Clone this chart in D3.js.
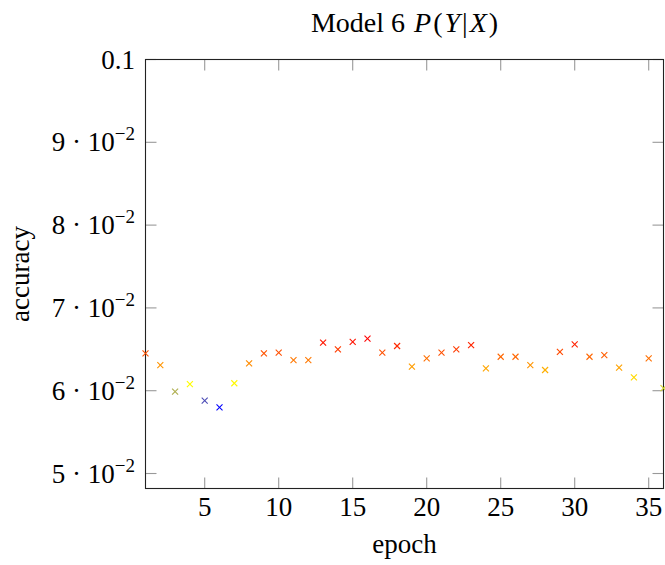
<!DOCTYPE html>
<html><head><meta charset="utf-8">
<script src="https://cdn.jsdelivr.net/npm/d3@7"></script>
<style>body{margin:0;background:#fff}</style>
</head><body>
<script>
const epochs = [1,2,3,4,5,6,7,8,9,10,11,12,13,14,15,16,17,18,19,20,21,22,23,24,25,26,27,28,29,30,31,32,33,34,35,36];
const accuracy = [0.0645,0.0631,0.0599,0.0608,0.0588,0.0580,0.0609,0.0633,0.0645,0.0646,0.0637,0.0637,
  0.0658,0.0650,0.0659,0.0663,0.0646,0.0654,0.0629,0.0639,0.0646,0.0650,0.0655,0.0627,
  0.0641,0.0641,0.0631,0.0625,0.0647,0.0656,0.0641,0.0643,0.0628,0.0616,0.0639,0.0603];
const xTicks = [5,10,15,20,25,30,35];
const yTicks = [0.05,0.06,0.07,0.08,0.09,0.1];
const yTickMantissa = ["5","6","7","8","9",null];
const hotColors = ["rgb(0,0,255)","rgb(255,255,0)","rgb(255,128,0)","rgb(255,0,0)"];

const W = 665, H = 565;
const L = 145.5, R = 663.5, T = 59.5, B = 488.5;
const font = "'Liberation Serif', 'Times New Roman', serif";
const fs = 27;

const svg = d3.select("body").append("svg").attr("width", W).attr("height", H)
  .style("font-family", font);

const x = d3.scaleLinear().domain([1,36]).range([L,R]);
const y = d3.scaleLinear().domain([0.04819,0.1]).range([B,T]);

const lo = d3.min(accuracy), hi = d3.max(accuracy);
const cmap = d3.scaleLinear().domain([0,1/3,2/3,1]).range(hotColors).interpolate(d3.interpolateRgb);
const meta = d3.scaleLinear().domain([lo,hi]).range([0,1]);

const tickLen = 11;
const g = svg.append("g");
const tickColor = "#999";
xTicks.forEach(t => {
  g.append("line").attr("x1",x(t)).attr("x2",x(t)).attr("y1",B).attr("y2",B-tickLen).attr("stroke",tickColor).attr("stroke-width",1.1);
  g.append("line").attr("x1",x(t)).attr("x2",x(t)).attr("y1",T).attr("y2",T+tickLen).attr("stroke",tickColor).attr("stroke-width",1.1);
  g.append("text").attr("x",x(t)).attr("y",516).attr("text-anchor","middle").attr("font-size",fs).text(t);
});
yTicks.forEach((t,i) => {
  g.append("line").attr("x1",L).attr("x2",L+tickLen).attr("y1",y(t)).attr("y2",y(t)).attr("stroke",tickColor).attr("stroke-width",1.1);
  g.append("line").attr("x1",R).attr("x2",R-tickLen).attr("y1",y(t)).attr("y2",y(t)).attr("stroke",tickColor).attr("stroke-width",1.1);
  const tx = g.append("text").attr("x",135).attr("y",y(t)+9).attr("text-anchor","end").attr("font-size",fs);
  if (yTickMantissa[i] === null) {
    tx.text(d3.format(".1f")(t));
  } else {
    tx.append("tspan").text(yTickMantissa[i] + " \u00B7 10");
    tx.append("tspan").attr("font-size",19).attr("dy",-11).text("\u2212" + "2");
  }
});
g.append("rect").attr("x",L).attr("y",T).attr("width",R-L).attr("height",B-T)
  .attr("fill","none").attr("stroke","#222").attr("stroke-width",1.1);

const ms = 3;
const pts = svg.append("g").selectAll("g").data(epochs).join("g")
  .attr("transform",(d,i)=>`translate(${x(d)},${y(accuracy[i])})`)
  .attr("stroke",(d,i)=>cmap(meta(accuracy[i]))).attr("stroke-width",1.1);
pts.append("line").attr("x1",-ms).attr("y1",-ms).attr("x2",ms).attr("y2",ms);
pts.append("line").attr("x1",-ms).attr("y1",ms).attr("x2",ms).attr("y2",-ms);

const title = svg.append("text").attr("x",(L+R)/2).attr("y",32).attr("text-anchor","middle").attr("font-size",28);
title.append("tspan").text("Model 6 ");
const mathParts = [["P",true],["(",false],["Y",true],["|",false],["X",true],[")",false]];
mathParts.forEach(([s,it]) => {
  const sp = title.append("tspan").attr("dx",2).text(s);
  if (it) sp.attr("font-style","italic");
});

svg.append("text").attr("x",(L+R)/2).attr("y",553).attr("text-anchor","middle").attr("font-size",fs).text("epoch");
svg.append("text").attr("transform",`translate(29,${(T+B)/2}) rotate(-90)`).attr("text-anchor","middle").attr("font-size",fs).text("accuracy");
</script>
</body></html>
